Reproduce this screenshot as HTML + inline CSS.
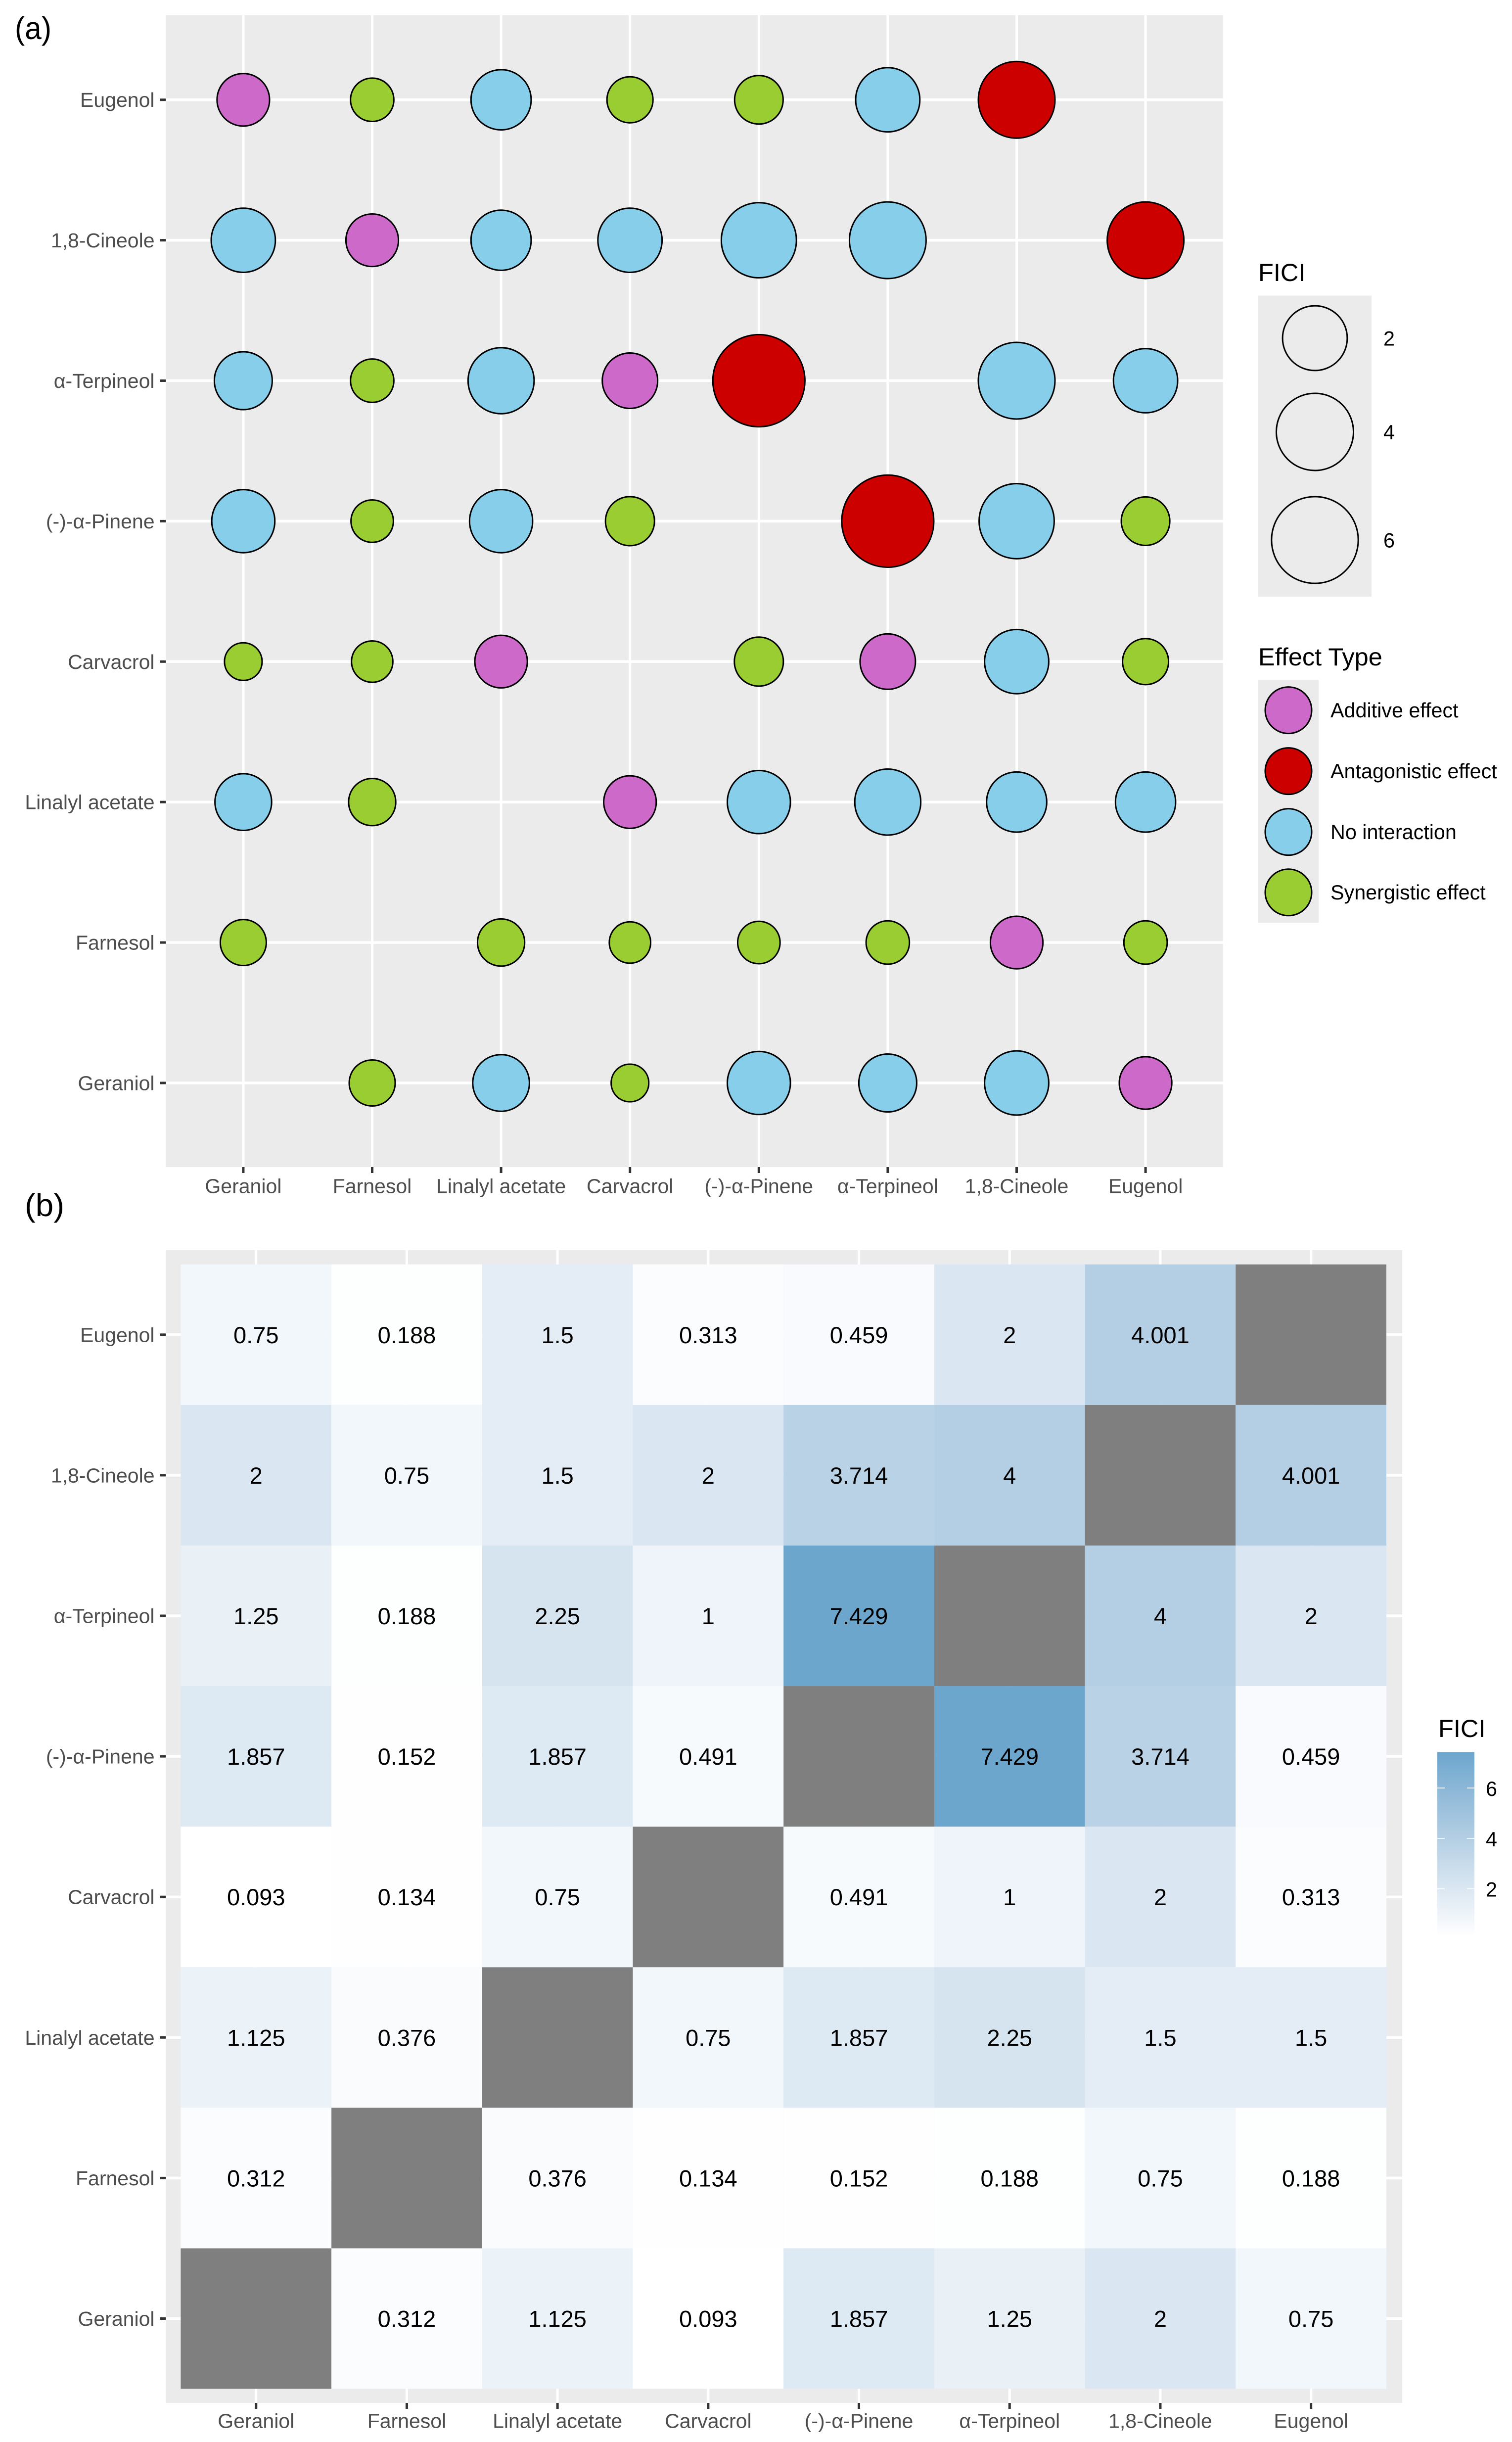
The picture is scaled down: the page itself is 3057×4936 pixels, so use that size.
<!DOCTYPE html>
<html lang="en">
<head>
<meta charset="utf-8">
<title>FICI bubble chart and heatmap</title>
<style>
  html, body { margin: 0; padding: 0; background: #ffffff; }
  svg { display: block; }
  text { font-family: "Liberation Sans", "DejaVu Sans", sans-serif; }
  .tick-label { font-size: 41px; fill: #4d4d4d; }
  .legend-title { font-size: 50.5px; fill: #000000; }
  .legend-label { font-size: 41.3px; fill: #000000; }
  .panel-tag { font-size: 64px; fill: #000000; }
  .cell-label { font-size: 47px; fill: #000000; text-anchor: middle; }
  .additive { fill: #cd69c9; }
  .antagonistic { fill: #cd0000; }
  .none { fill: #87ceeb; }
  .synergistic { fill: #9acd32; }
  .bubble { stroke: #000000; stroke-width: 3px; }
</style>
</head>
<body>
<svg id="figure" xmlns="http://www.w3.org/2000/svg" width="3057" height="4936" viewBox="0 0 3057 4936">
  <defs>
    <linearGradient id="fici-gradient" x1="0" y1="1" x2="0" y2="0"></linearGradient>
  </defs>
  <rect x="0" y="0" width="3057" height="4936" fill="#ffffff"></rect>

  <text class="panel-tag" x="30" y="79" textLength="74" lengthAdjust="spacingAndGlyphs">(a)</text>
  <text class="panel-tag" x="50" y="2458" textLength="80" lengthAdjust="spacingAndGlyphs">(b)</text>

  <g id="panel-a"></g>
  <g id="panel-b"></g>

  <g>
    <text class="legend-title" x="2544" y="568">FICI</text>
    <rect x="2544" y="597.5" width="229" height="608.5" fill="#ebebeb"></rect>
    <g id="size-legend-keys"></g>
  </g>

  <g>
    <text class="legend-title" x="2544" y="1345">Effect Type</text>
    <rect x="2544" y="1374.5" width="122" height="490.5" fill="#ebebeb"></rect>
    <circle class="bubble additive" cx="2605" cy="1435.6" r="47"></circle>
    <circle class="bubble antagonistic" cx="2605" cy="1558.6" r="47"></circle>
    <circle class="bubble none" cx="2605" cy="1681.6" r="47"></circle>
    <circle class="bubble synergistic" cx="2605" cy="1803.8" r="47"></circle>
    <text class="legend-label" x="2690" y="1450">Additive effect</text>
    <text class="legend-label" x="2690" y="1573">Antagonistic effect</text>
    <text class="legend-label" x="2690" y="1696">No interaction</text>
    <text class="legend-label" x="2690" y="1818">Synergistic effect</text>
  </g>

  <g id="colorbar">
    <text class="legend-title" x="2908" y="3511">FICI</text>
  </g>
</svg>

<script>
// ----- chart data -----
var categories = ['Geraniol', 'Farnesol', 'Linalyl acetate', 'Carvacrol', '(-)-\u03b1-Pinene', '\u03b1-Terpineol', '1,8-Cineole', 'Eugenol'];
var ficiGeraniol = [null, 0.312, 1.125, 0.093, 1.857, 1.25, 2, 0.75];
var ficiFarnesol = [0.312, null, 0.376, 0.134, 0.152, 0.188, 0.75, 0.188];
var ficiLinalyl = [1.125, 0.376, null, 0.75, 1.857, 2.25, 1.5, 1.5];
var ficiCarvacrol = [0.093, 0.134, 0.75, null, 0.491, 1, 2, 0.313];
var ficiPinene = [1.857, 0.152, 1.857, 0.491, null, 7.429, 3.714, 0.459];
var ficiTerpineol = [1.25, 0.188, 2.25, 1, 7.429, null, 4, 2];
var ficiCineole = [2, 0.75, 1.5, 2, 3.714, 4, null, 4.001];
var ficiEugenol = [0.75, 0.188, 1.5, 0.313, 0.459, 2, 4.001, null];
var ficiRows = [ficiGeraniol, ficiFarnesol, ficiLinalyl, ficiCarvacrol, ficiPinene, ficiTerpineol, ficiCineole, ficiEugenol];
var sizeLegendValues = [2, 4, 6];
var colorbarTicks = [2, 4, 6];
var ficiDomain = [0.093, 7.429];

// ----- axis functions -----
function xBubble(i) { return 491.9 + i * 260.6; }
function yBubble(i) { return 2189 - i * 283.9; }
function xTile(i) { return 517.75 + i * 304.7; }
function yTile(i) { return 4686.5 - i * 284.1; }
function yColorbar(v) { return 3817.7 - (v - 2) * 50.9; }
function sizeScale(v) {
  var lowEndTrim = 3 * Math.max(0, 1 - (v - ficiDomain[0]) / 0.05);
  return 36 + 21.5 * Math.sqrt(v) - lowEndTrim;
}
function effectClass(v) {
  if (v <= 0.5) return 'synergistic';
  if (v <= 1) return 'additive';
  if (v <= 4) return 'none';
  return 'antagonistic';
}

// ----- colour scale: white to #6ca6cd, interpolated in Lab -----
function toLin(c) { c /= 255; return c <= 0.04045 ? c / 12.92 : Math.pow((c + 0.055) / 1.055, 2.4); }
function fromLin(c) {
  var s = c <= 0.0031308 ? 12.92 * c : 1.055 * Math.pow(c, 1 / 2.4) - 0.055;
  return Math.max(0, Math.min(255, Math.round(s * 255)));
}
function fLab(t) { return t > 0.008856 ? Math.cbrt(t) : 7.787 * t + 16 / 116; }
function fLabInv(t) { return t > 0.2069 ? t * t * t : (t - 16 / 116) / 7.787; }
function rgbToLab(c) {
  var r = toLin(c[0]), g = toLin(c[1]), b = toLin(c[2]);
  var x = fLab((0.4124 * r + 0.3576 * g + 0.1805 * b) / 0.95047);
  var y = fLab(0.2126 * r + 0.7152 * g + 0.0722 * b);
  var z = fLab((0.0193 * r + 0.1192 * g + 0.9505 * b) / 1.08883);
  return [116 * y - 16, 500 * (x - y), 200 * (y - z)];
}
function labToCss(l) {
  var fy = (l[0] + 16) / 116;
  var x = 0.95047 * fLabInv(fy + l[1] / 500), y = fLabInv(fy), z = 1.08883 * fLabInv(fy - l[2] / 200);
  var r = 3.2406 * x - 1.5372 * y - 0.4986 * z;
  var g = -0.9689 * x + 1.8758 * y + 0.0415 * z;
  var b = 0.0557 * x - 0.204 * y + 1.057 * z;
  return 'rgb(' + fromLin(r) + ',' + fromLin(g) + ',' + fromLin(b) + ')';
}
var labLow = rgbToLab([255, 255, 255]);
var labHigh = rgbToLab([108, 166, 205]);
function colorScale(v) {
  var t = Math.max(0, Math.min(1, (v - ficiDomain[0]) / (ficiDomain[1] - ficiDomain[0])));
  return labToCss([0, 1, 2].map(function (k) { return labLow[k] + (labHigh[k] - labLow[k]) * t; }));
}

// ----- drawing helpers -----
var NS = 'http://www.w3.org/2000/svg';
function make(parent, tag, attrs, content) {
  var node = document.createElementNS(NS, tag);
  for (var key in attrs) node.setAttribute(key, attrs[key]);
  if (content !== undefined) node.textContent = content;
  parent.appendChild(node);
  return node;
}
function slug(s) {
  return s.toLowerCase().replace(/\u03b1/g, 'alpha').replace(/[^a-z0-9]+/g, '-').replace(/^-|-$/g, '');
}

function drawAxes(group, prefix, xFn, yFn, left, top, right, bottom, xLabelY) {
  var el;
  categories.forEach(function (name, i) {
    el = make(group, 'line', { x1: left, x2: right, y1: yFn(i), y2: yFn(i), stroke: '#ffffff', 'stroke-width': 5.5 });
    
    
    el = make(group, 'line', { x1: xFn(i), x2: xFn(i), y1: top, y2: bottom, stroke: '#ffffff', 'stroke-width': 5 });
    
    
    el = make(group, 'line', { x1: left - 12, x2: left, y1: yFn(i), y2: yFn(i), stroke: '#333333', 'stroke-width': 5 });
    
    
    el = make(group, 'line', { x1: xFn(i), x2: xFn(i), y1: bottom, y2: bottom + 12, stroke: '#333333', 'stroke-width': 5 });
    
    
    el = make(group, 'text', { 'class': 'tick-label', x: left - 23, y: yFn(i) + 14.5, 'text-anchor': 'end' }, name);
    
    
    el = make(group, 'text', { 'class': 'tick-label', x: xFn(i), y: xLabelY, 'text-anchor': 'middle' }, name);
    
    
  });
}

// ----- panel (a): bubbles -----
var panelA = document.getElementById('panel-a');
var bgA = make(panelA, 'rect', { x: 335.5, y: 30.6, width: 2137, height: 2328.4, fill: '#ebebeb' });


drawAxes(panelA, 'bubble', xBubble, yBubble, 335.5, 30.6, 2472.5, 2359, 2411.7);
ficiRows.forEach(function (row, r) {
  row.forEach(function (v, c) {
    if (v === null) return;
    var bubble = make(panelA, 'circle', {
      'class': 'bubble ' + effectClass(v),
      cx: xBubble(c), cy: yBubble(r), r: sizeScale(v) - 1.5
    });
    
    
  });
});

// ----- panel (b): heatmap -----
var panelB = document.getElementById('panel-b');
var bgB = make(panelB, 'rect', { x: 335.5, y: 2527, width: 2499.5, height: 2330, fill: '#ebebeb' });


drawAxes(panelB, 'heatmap', xTile, yTile, 335.5, 2527, 2835, 4857, 4907.7);
ficiRows.forEach(function (row, r) {
  row.forEach(function (v, c) {
    var tile = make(panelB, 'rect', {
      x: xTile(c) - 152.35, y: yTile(r) - 142.05, width: 304.7, height: 284.1,
      fill: v === null ? '#7f7f7f' : colorScale(v)
    });
    
    
  });
});
ficiRows.forEach(function (row, r) {
  row.forEach(function (v, c) {
    if (v === null) return;
    var label = make(panelB, 'text', { 'class': 'cell-label', x: xTile(c), y: yTile(r) + 17 }, String(v));
    
    
  });
});

// ----- size legend -----
var sizeKeys = document.getElementById('size-legend-keys');
var sizeKeyRows = { 2: 683.5, 4: 873, 6: 1091.5 };
sizeLegendValues.forEach(function (v) {
  var key = make(sizeKeys, 'circle', { cx: 2658.5, cy: sizeKeyRows[v], r: sizeScale(v) - 1, fill: 'none', stroke: '#000000', 'stroke-width': 3 });
  
  
  var text = make(sizeKeys, 'text', { 'class': 'legend-label', x: 2797, y: sizeKeyRows[v] + 15 }, String(v));
  
  
});

// ----- colour bar -----
var gradient = document.getElementById('fici-gradient');
for (var s = 0; s <= 20; s++) {
  var stopValue = ficiDomain[0] + (ficiDomain[1] - ficiDomain[0]) * s / 20;
  var stop = make(gradient, 'stop', { offset: (s * 5) + '%', 'stop-color': colorScale(stopValue) });
  
  
}
var colorbar = document.getElementById('colorbar');
var barTop = yColorbar(ficiDomain[1]);
var barBottom = yColorbar(ficiDomain[0]);
var bar = make(colorbar, 'rect', { x: 2906, y: barTop, width: 75, height: barBottom - barTop, fill: 'url(#fici-gradient)' });


colorbarTicks.forEach(function (v) {
  var left = make(colorbar, 'line', { x1: 2906, x2: 2921, y1: yColorbar(v), y2: yColorbar(v), stroke: '#ffffff', 'stroke-width': 1.6 });
  
  
  var right = make(colorbar, 'line', { x1: 2966, x2: 2981, y1: yColorbar(v), y2: yColorbar(v), stroke: '#ffffff', 'stroke-width': 1.6 });
  
  
  var text = make(colorbar, 'text', { 'class': 'legend-label', x: 3004, y: yColorbar(v) + 16 }, String(v));
  
  
});
</script>
</body>
</html>
